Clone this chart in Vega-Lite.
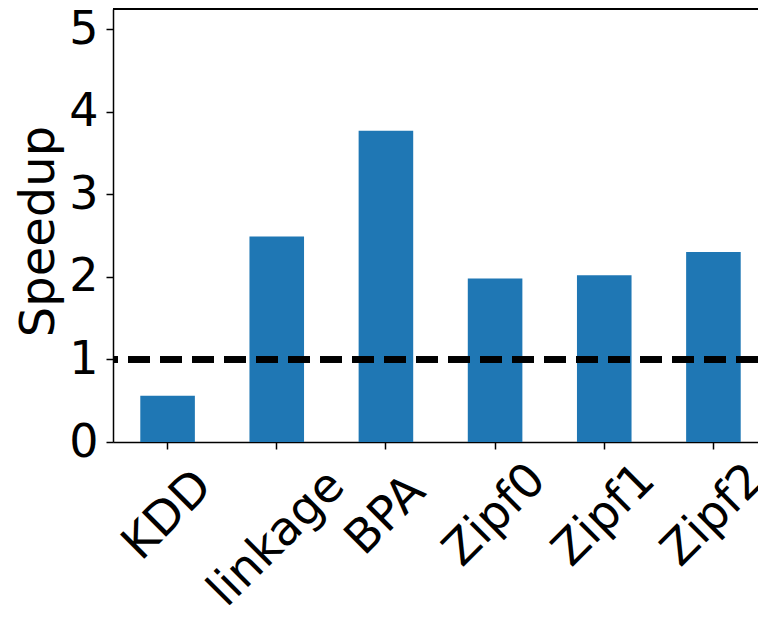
{
  "$schema": "https://vega.github.io/schema/vega-lite/v6.json",
  "autosize": "none",
  "width": 645,
  "height": 433,
  "padding": {"left": 113, "top": 9, "right": 0, "bottom": 175},
  "background": "white",
  "config": {
    "view": {"stroke": null},
    "font": "DejaVu Sans",
    "axis": {
      "domainColor": "black",
      "domainWidth": 1.5,
      "tickColor": "black",
      "tickWidth": 1.5,
      "tickSize": 7,
      "labelColor": "black",
      "titleColor": "black",
      "labelFont": "DejaVu Sans",
      "titleFont": "DejaVu Sans",
      "grid": false
    }
  },
  "data": {
    "values": [
      {"dataset": "KDD", "speedup": 0.56},
      {"dataset": "linkage", "speedup": 2.49},
      {"dataset": "BPA", "speedup": 3.77},
      {"dataset": "Zipf0", "speedup": 1.98},
      {"dataset": "Zipf1", "speedup": 2.02},
      {"dataset": "Zipf2", "speedup": 2.30}
    ]
  },
  "layer": [
    {
      "mark": {"type": "bar", "color": "#1f77b4"},
      "encoding": {
        "x": {
          "field": "dataset",
          "type": "nominal",
          "sort": null,
          "scale": {"paddingInner": 0.5, "paddingOuter": 0.25, "range": [0, 655]},
          "axis": {
            "title": null,
            "labelAngle": -45,
            "labelAlign": "center",
            "labelBaseline": "middle",
            "labelFontSize": 47,
            "labelPadding": {"condition": {"test": "datum.label == 'linkage'", "value": 89}, "value": 66},
            "labelOverlap": false,
            "labelBound": false,
            "labelFlush": false
          }
        },
        "y": {
          "field": "speedup",
          "type": "quantitative",
          "scale": {"domain": [0, 5.245], "nice": false, "zero": true},
          "axis": {
            "title": "Speedup",
            "titleFontSize": 48,
            "titleFontWeight": "normal",
            "titlePadding": 5,
            "titleY": 222,
            "values": [0, 1, 2, 3, 4, 5],
            "format": "d",
            "labelFontSize": 46,
            "labelPadding": 8,
            "labelFlush": false,
            "labelOverlap": false,
            "labelBound": false
          }
        }
      }
    },
    {
      "mark": {"type": "rule", "color": "black", "strokeWidth": 6, "strokeDash": [22, 10]},
      "encoding": {"y": {"datum": 1}}
    },
    {
      "mark": {"type": "rule", "color": "black", "strokeWidth": 1.5},
      "encoding": {"y": {"datum": 5.245}}
    }
  ]
}
